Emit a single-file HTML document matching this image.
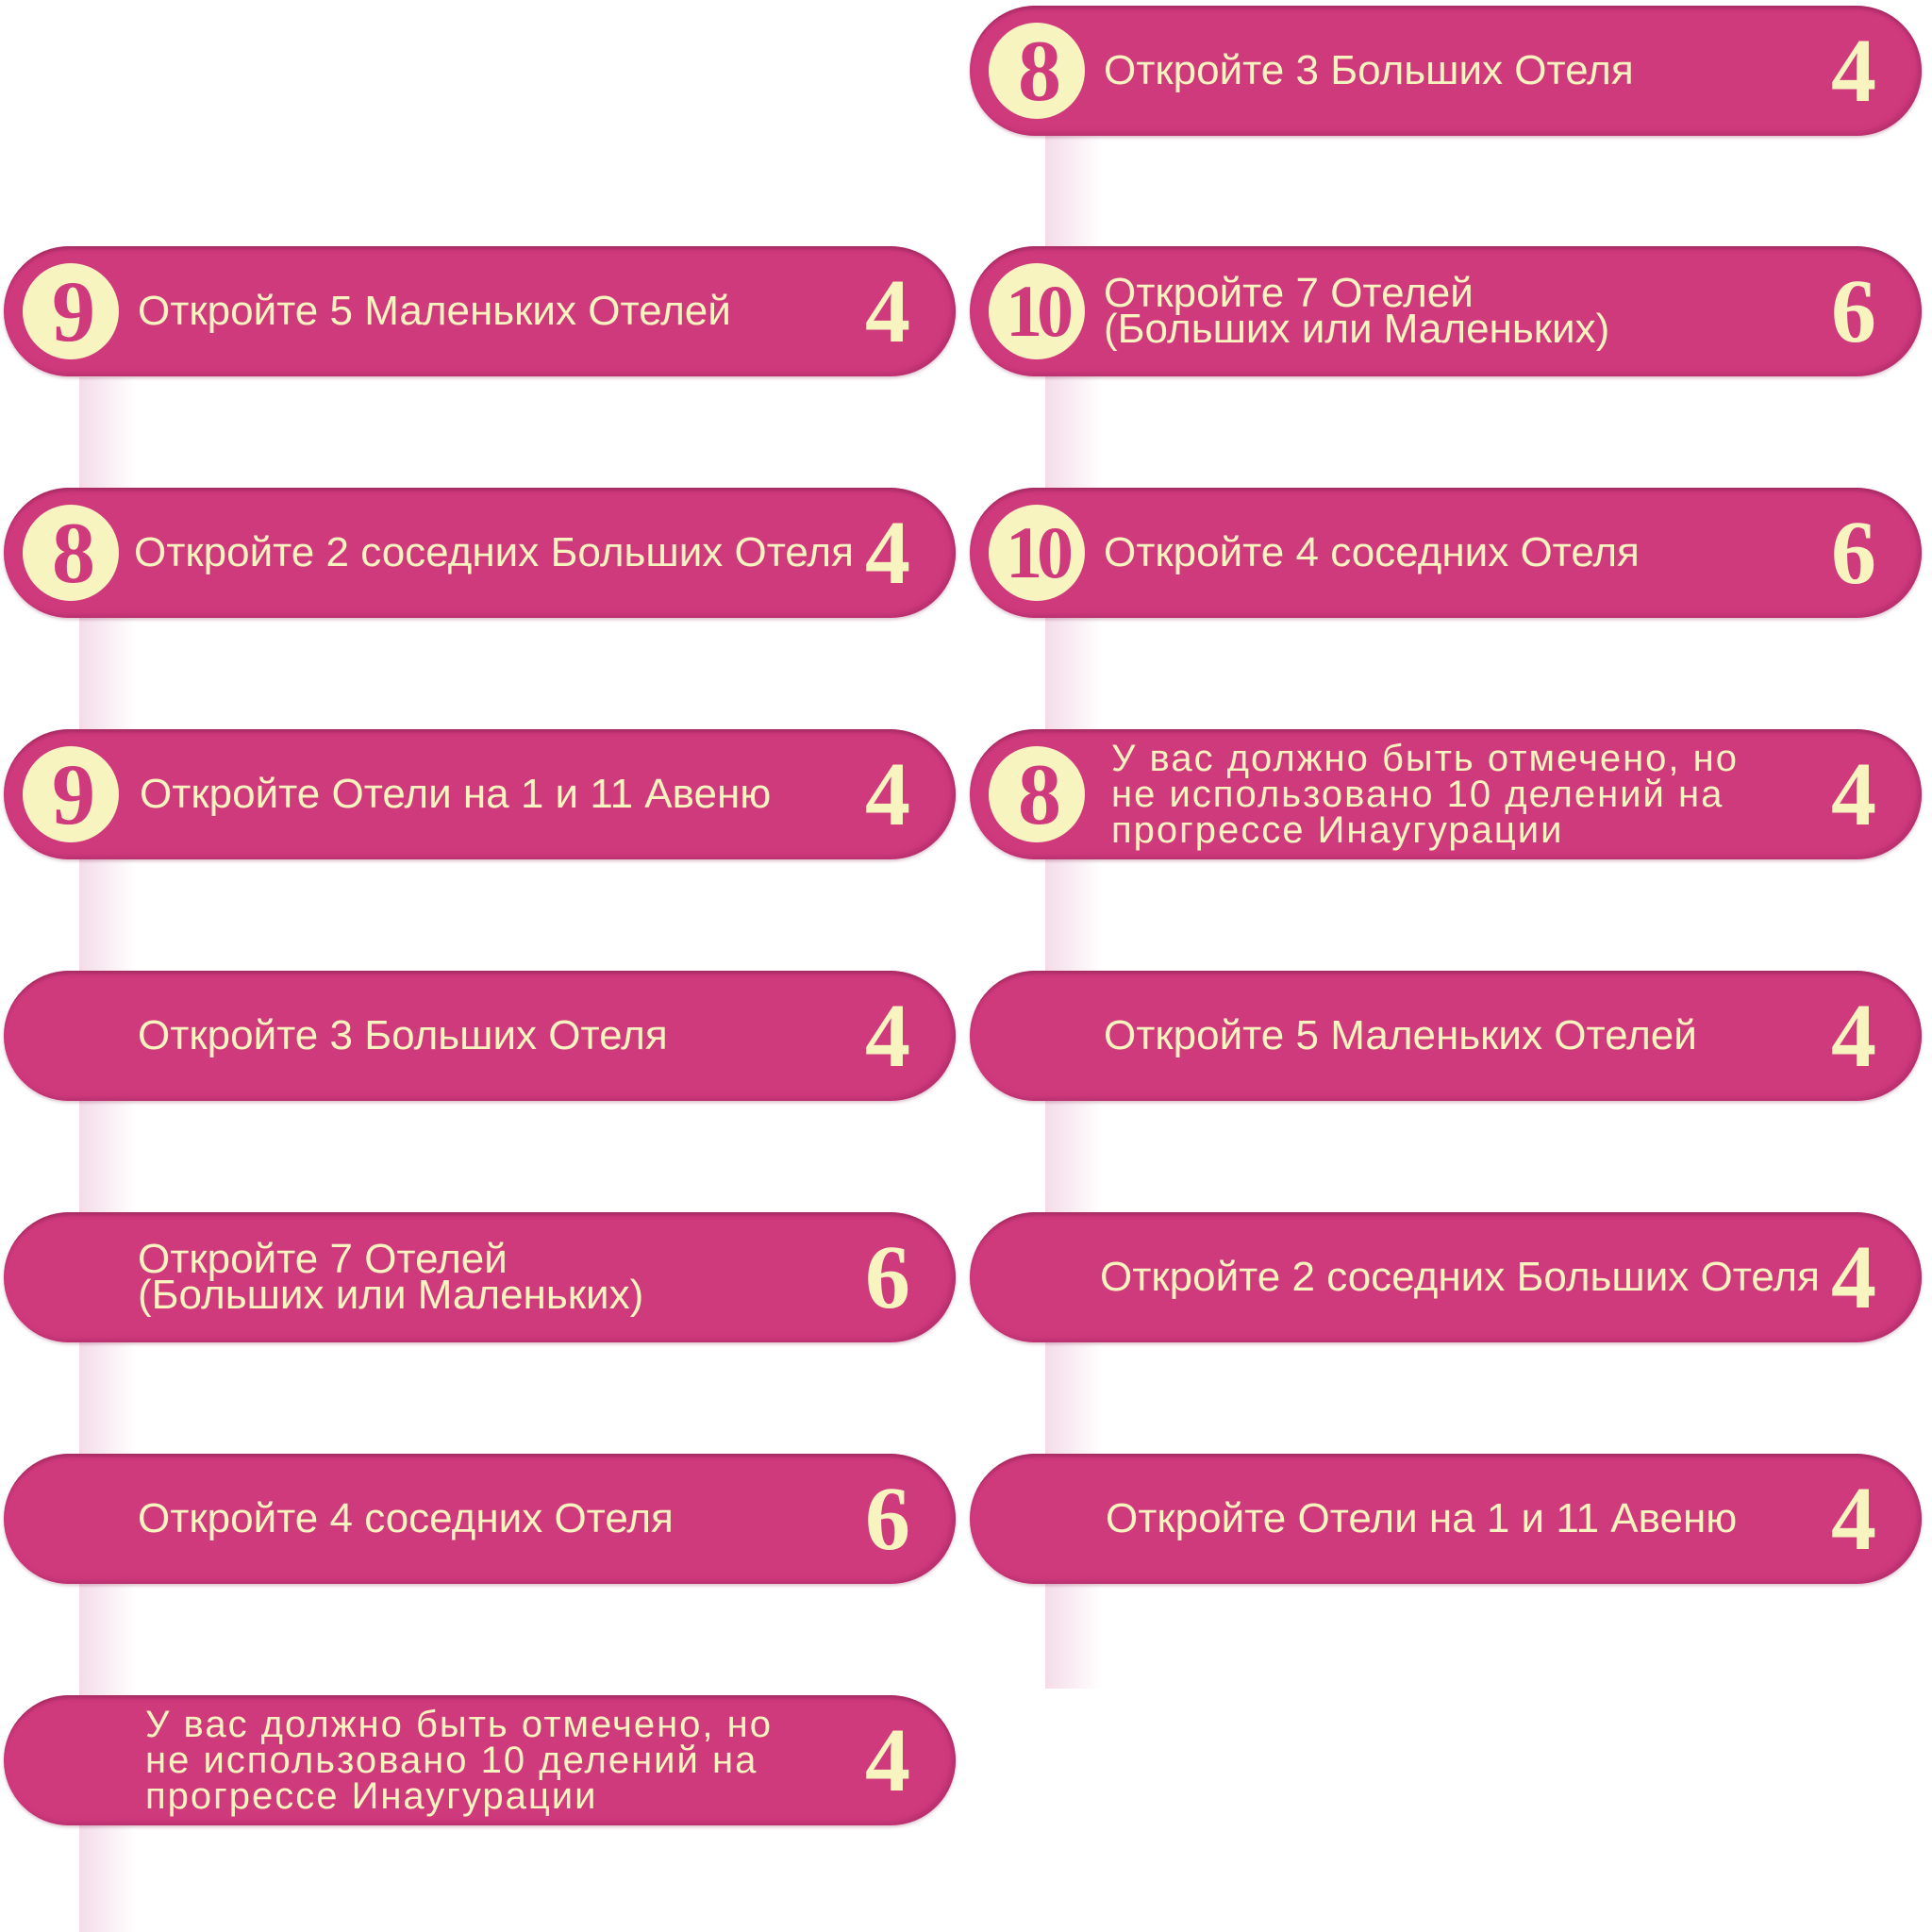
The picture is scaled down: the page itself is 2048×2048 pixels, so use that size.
<!DOCTYPE html>
<html><head><meta charset="utf-8"><style>
body{margin:0;width:2048px;height:2048px;background:#fff;position:relative;overflow:hidden;font-family:"Liberation Sans",sans-serif}
.strip{position:absolute;width:60px;background:linear-gradient(90deg,#f4dce8,#fff)}
.p{position:absolute;width:1009px;height:138px;border-radius:69px;background:#cf3a7d;box-shadow:inset 0 5px 4px -2px #a52a62,inset -4px -3px 6px #b8306e,0 2px 3px rgba(120,20,60,.25)}
.b{position:absolute;left:20px;top:18px;width:102px;height:102px;border-radius:50%;background:#f8f4c0;color:#cf3a7d;font-family:"Liberation Serif",serif;font-weight:bold;font-size:92px;line-height:102px;text-align:center;letter-spacing:-6px}
.t{position:absolute;left:142px;top:0;height:138px;display:flex;align-items:center;color:#f8f4c0;font-size:44px;line-height:38px;white-space:nowrap}
.n{position:absolute;right:48px;top:0;height:138px;line-height:138px;color:#f8f4c0;font-family:"Liberation Serif",serif;font-weight:bold;font-size:96px}
.sm{font-size:40px;letter-spacing:2px}
</style></head><body>
<div class="strip" style="left:84px;top:400px;height:1648px"></div>
<div class="strip" style="left:1108px;top:144px;height:1646px"></div>

<div class="p" style="left:1028px;top:6px"><div class="b">8</div><div class="t" style="left:142px">Откройте 3 Больших Отеля</div><div class="n">4</div></div>
<div class="p" style="left:1028px;top:261px"><div class="b" style="font-size:78px">10</div><div class="t">Откройте 7 Отелей<br>(Больших или Маленьких)</div><div class="n">6</div></div>
<div class="p" style="left:1028px;top:517px"><div class="b" style="font-size:78px">10</div><div class="t">Откройте 4 соседних Отеля</div><div class="n">6</div></div>
<div class="p" style="left:1028px;top:773px"><div class="b">8</div><div class="t sm" style="left:150px">У вас должно быть отмечено, но<br>не использовано 10 делений на<br>прогрессе Инаугурации</div><div class="n">4</div></div>
<div class="p" style="left:1028px;top:1029px"><div class="t">Откройте 5 Маленьких Отелей</div><div class="n">4</div></div>
<div class="p" style="left:1028px;top:1285px"><div class="t" style="left:138px">Откройте 2 соседних Больших Отеля</div><div class="n">4</div></div>
<div class="p" style="left:1028px;top:1541px"><div class="t" style="left:144px">Откройте Отели на 1 и 11 Авеню</div><div class="n">4</div></div>

<div class="p" style="left:4px;top:261px"><div class="b">9</div><div class="t">Откройте 5 Маленьких Отелей</div><div class="n">4</div></div>
<div class="p" style="left:4px;top:517px"><div class="b">8</div><div class="t" style="left:138px">Откройте 2 соседних Больших Отеля</div><div class="n">4</div></div>
<div class="p" style="left:4px;top:773px"><div class="b">9</div><div class="t" style="left:144px">Откройте Отели на 1 и 11 Авеню</div><div class="n">4</div></div>
<div class="p" style="left:4px;top:1029px"><div class="t">Откройте 3 Больших Отеля</div><div class="n">4</div></div>
<div class="p" style="left:4px;top:1285px"><div class="t">Откройте 7 Отелей<br>(Больших или Маленьких)</div><div class="n">6</div></div>
<div class="p" style="left:4px;top:1541px"><div class="t">Откройте 4 соседних Отеля</div><div class="n">6</div></div>
<div class="p" style="left:4px;top:1797px"><div class="t sm" style="left:150px">У вас должно быть отмечено, но<br>не использовано 10 делений на<br>прогрессе Инаугурации</div><div class="n">4</div></div>
</body></html>
